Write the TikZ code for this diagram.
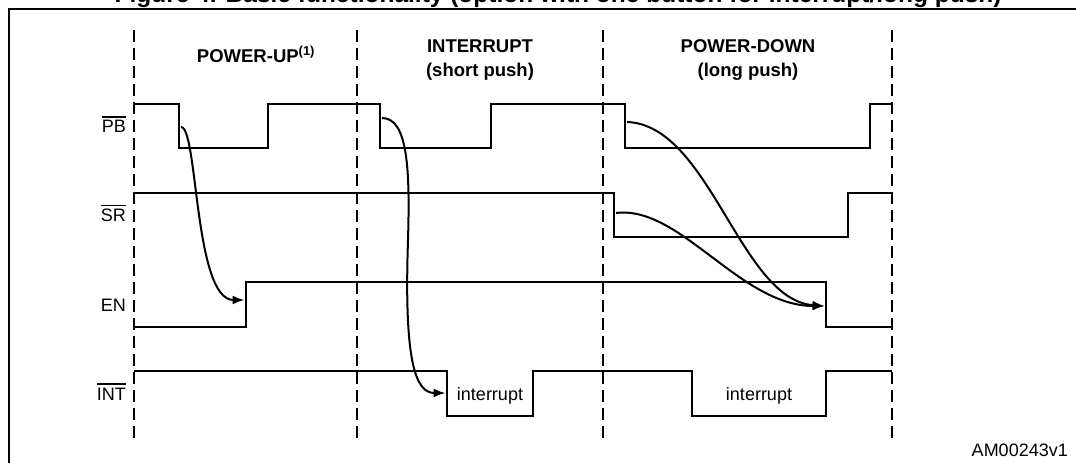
\documentclass[tikz,border=0pt]{standalone}
\usepackage{fontspec}
\setmainfont{Liberation Sans}
\usetikzlibrary{arrows.meta}
\newcommand{\barred}[1]{\setbox0\hbox{#1}\rlap{\raisebox{\dimexpr\ht0+2.6pt\relax}{\rule{\wd0}{1.6pt}}}\box0}
\begin{document}
\begin{tikzpicture}[x=1pt,y=-1pt,
  sig/.style={line width=2.4pt, line join=miter},
  guide/.style={line width=1.8pt, dash pattern=on 12pt off 6pt},
  cause/.style={line width=2pt, -{Latex[length=12pt,width=9pt]}},
  lbl/.style={anchor=base east, inner sep=0pt, font=\fontsize{18}{21}\selectfont},
  hdr/.style={anchor=base, inner sep=0pt, font=\bfseries\fontsize{18.5}{22}\selectfont},
  txt/.style={anchor=base, inner sep=0pt, font=\fontsize{18}{21}\selectfont}]
\useasboundingbox (0,0) rectangle (1076,463);
\clip (0,0) rectangle (1076,463);
% clipped title
\begin{scope}
\clip (0,0) rectangle (1076,7.5);
\node[anchor=base, inner sep=0pt, font=\bfseries\fontsize{24.5}{28}\selectfont] (title) at (558,2.5) {Figure 4. Basic functionality (option with one button for interrupt/long push)};
\end{scope}
% frame
\draw[line width=2pt] (9,480) -- (9,9) -- (1090,9);
% section guides
\foreach \x/\n in {134/g1,357/g2,603/g3,892/g4} {
  \coordinate (\n t) at (\x,30);
  \coordinate (\n b) at (\x,440);
  \draw[guide] (\n t) -- (\n b);
}
% headers
\node[hdr] (hUp) at (256,62) {POWER-UP\textsuperscript{(1)}};
\node[hdr] (hInt) at (480,52) {INTERRUPT};
\node[hdr] (hIntb) at (480,76) {(short push)};
\node[hdr] (hDn) at (748,52) {POWER-DOWN};
\node[hdr] (hDnb) at (748,76) {(long push)};
% signal labels
\node[lbl] (lPB) at (126,132.5) {\barred{PB}};
\node[lbl] (lSR) at (126,221.5) {\barred{SR}};
\node[lbl] (lEN) at (126,311) {EN};
\node[lbl] (lINT) at (126,400) {\barred{INT}};
% waveforms
\draw[sig] (134,104) -| (179,148) -| (268,104) -| (380,148) -| (491,104) -| (625,148) -| (870,104) -- (892,104);
\draw[sig] (134,193) -| (614,237) -| (848,193) -- (892,193);
\draw[sig] (134,327) -| (246,282) -| (826,327) -- (892,327);
\draw[sig] (134,371) -| (447,416) -| (533,371) -| (692,416) -| (826,371) -- (892,371);
% interrupt texts
\node[txt] (int1) at (490,400) {interrupt};
\node[txt] (int2) at (759,400) {interrupt};
% cause arrows
\coordinate (pb1) at (181,127);
\coordinate (en1) at (244.5,300);
\coordinate (pb2) at (382,118);
\coordinate (int1a) at (445.5,393);
\coordinate (pb3) at (627,122);
\coordinate (sr1) at (616,213);
\coordinate (en2) at (824.5,306);
\draw[cause] (pb1) .. controls (198,127) and (194,300) .. (en1);
\draw[cause] (pb2) .. controls (408,118) and (410,170) .. (408,240) .. controls (404,360) and (415,393) .. (int1a);
\draw[cause] (pb3) .. controls (710,125) and (740,300) .. (en2);
\draw[cause] (sr1) .. controls (680,205) and (740,306) .. (en2);
% figure id
\node[anchor=base east, inner sep=0pt, font=\fontsize{18}{21}\selectfont] (id) at (1068,456) {AM00243v1};
\end{tikzpicture}
\end{document}
